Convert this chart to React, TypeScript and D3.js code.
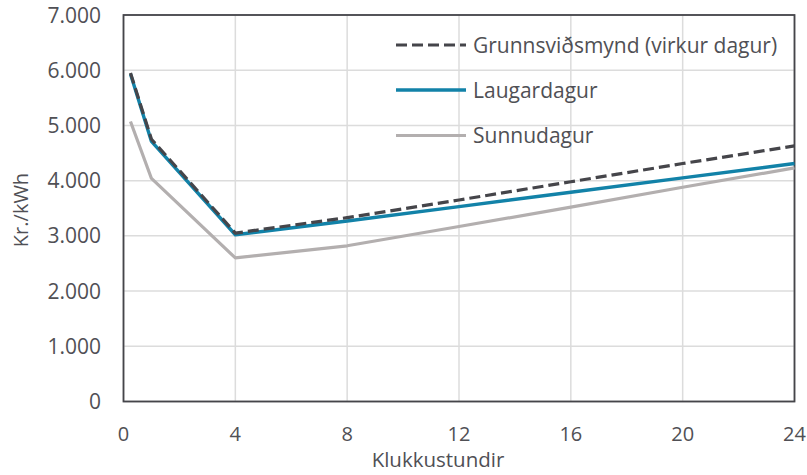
import React from "react";
import * as d3 from "d3";

const hours = [0.25, 1, 4, 8, 12, 16, 20, 24];
const grunn = [5950, 4750, 3050, 3330, 3650, 3980, 4310, 4630];
const laugardagur = [5930, 4710, 3020, 3270, 3530, 3790, 4050, 4310];
const sunnudagur = [5070, 4040, 2600, 2820, 3170, 3520, 3880, 4230];
const seriesNames = ["Grunnsviðsmynd (virkur dagur)", "Laugardagur", "Sunnudagur"];
const xTicks = [0, 4, 8, 12, 16, 20, 24];
const yTicks = [0, 1000, 2000, 3000, 4000, 5000, 6000, 7000];

const W = 807, H = 475;
const left = 123.5, right = 794.5, top = 15, bottom = 401.5;
const font = "'Open Sans', sans-serif";
const textColor = "#505055";

export default function App() {
  const x = d3.scaleLinear().domain([0, 24]).range([left, right]);
  const y = d3.scaleLinear().domain([0, 7000]).range([bottom, top]);
  const line = d3.line<[number, number]>().x(d => x(d[0])).y(d => y(d[1]));
  const fmt = (v: number) => (v === 0 ? "0" : d3.format(",")(v).replace(/,/g, "."));
  const series = [
    { name: seriesNames[0], vals: grunn, color: "#45454a", dash: "11 5", width: 3.2 },
    { name: seriesNames[1], vals: laugardagur, color: "#1282a8", dash: undefined, width: 3.4 },
    { name: seriesNames[2], vals: sunnudagur, color: "#b3afaf", dash: undefined, width: 3.2 },
  ];
  const drawOrder = [2, 1, 0];
  const legendY = [45, 90, 135.5];
  return (
    <svg width={W} height={H} style={{ position: "absolute", left: 0, top: 0, background: "#fff" }}>
      {yTicks.map(t => (
        <line key={"gy" + t} x1={left} x2={right} y1={y(t)} y2={y(t)} stroke="#dcdcdc" strokeWidth={1.5} />
      ))}
      {xTicks.map(t => (
        <line key={"gx" + t} x1={x(t)} x2={x(t)} y1={top} y2={bottom} stroke="#dcdcdc" strokeWidth={1.5} />
      ))}
      <rect x={left} y={top} width={right - left} height={bottom - top} fill="none" stroke="#45454a" strokeWidth={1.8} />
      {yTicks.map(t => (
        <text key={"ly" + t} x={101} y={y(t)} dy="0.36em" textAnchor="end" fontFamily={font} fontSize={21} fill={textColor}>
          {fmt(t)}
        </text>
      ))}
      {xTicks.map(t => (
        <text key={"lx" + t} x={x(t)} y={440.7} textAnchor="middle" fontFamily={font} fontSize={20} fill={textColor}>
          {t}
        </text>
      ))}
      <text x={438} y={467} textAnchor="middle" fontFamily={font} fontSize={20.5} fill={textColor}>
        Klukkustundir
      </text>
      <text transform={`translate(28,${210}) rotate(-90)`} textAnchor="middle" fontFamily={font} fontSize={20} fill={textColor}>
        Kr./kWh
      </text>
      {drawOrder.map(i => {
        const s = series[i];
        const pts = hours.map((h, j) => [h, s.vals[j]] as [number, number]);
        return (
          <path key={"s" + i} d={line(pts) || ""} fill="none" stroke={s.color} strokeWidth={s.width}
            strokeDasharray={s.dash} strokeLinejoin="round" />
        );
      })}
      {series.map((s, i) => (
        <g key={"lg" + i}>
          <line x1={396} x2={466} y1={legendY[i]} y2={legendY[i]} stroke={s.color} strokeWidth={s.width} strokeDasharray={s.dash} />
          <text x={473} y={legendY[i]} dy="0.36em" fontFamily={font} fontSize={21} fill={textColor}>
            {s.name}
          </text>
        </g>
      ))}
    </svg>
  );
}
